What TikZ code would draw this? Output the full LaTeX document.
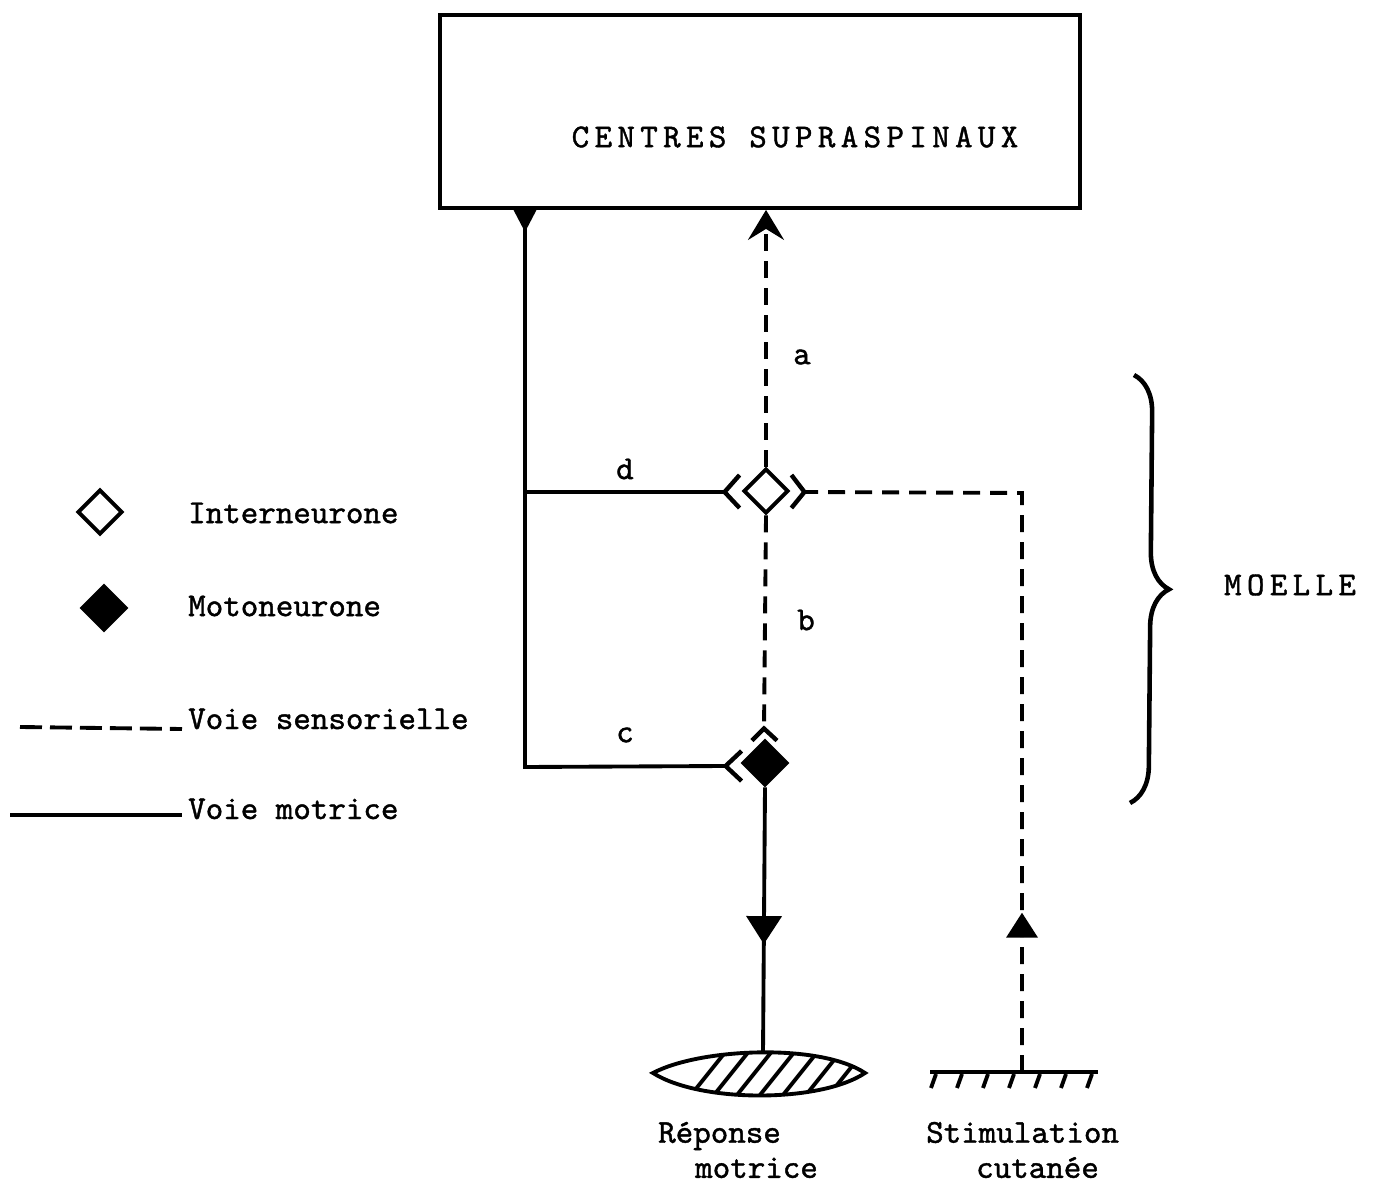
\documentclass[tikz,border=0pt]{standalone}
\usepackage{fontspec}
\usetikzlibrary{shapes.geometric,arrows.meta,decorations.markings,decorations.pathreplacing,calc}
\newfontfamily\typefont[FakeBold=1.2]{lmmono10-regular.otf}
\newfontfamily\capsfont[FakeBold=1.2,LetterSpace=16]{lmmono10-regular.otf}

\tikzset{
  motor/.style={line width=2.2pt},
  sensory/.style={line width=2.2pt,dash pattern=on 0.34cm off 0.2cm},
  synapse/.style={line width=2.5pt},
  cell/.style={diamond,draw,line width=2.2pt,minimum width=0.9cm,minimum height=0.9cm,inner sep=0pt},
  txt/.style={font=\typefont\fontsize{19}{20}\selectfont},
  capstxt/.style={font=\capsfont\fontsize{19}{20}\selectfont},
}

\begin{document}
\begin{tikzpicture}[x=0.02cm,y=-0.02cm]
\path[use as bounding box] (0,0) rectangle (1383,1185);
% centres supraspinaux
\node[draw,motor,minimum width=12.8cm,minimum height=3.86cm,inner sep=0pt] (box) at (760,111.5) {};
\node[capstxt] (title) at (795,137) {CENTRES SUPRASPINAUX};
% neurones
\node[cell] (inter) at (766,491) {};
\node[cell,fill=black] (moto) at (765,763) {};
\coordinate (mtop) at (525,208);
\coordinate (dj) at (525,492);
\coordinate (cj) at (525,767);
\coordinate (dtip) at ($(inter.west)+(-17,1)$);
\coordinate (etip) at ($(inter.east)+(14,1)$);
\coordinate (ctip) at ($(moto.west)+(-15,3)$);
\coordinate (btip) at ($(moto.north)+(-1,-10)$);
\coordinate (musc) at (763,1053);
\coordinate (skin) at (1022,1072);
\coordinate (scorner) at (1022,493);
% voie motrice
\fill ($(mtop)+(-12,1)$) -- ($(mtop)+(12,1)$) -- ($(mtop)+(0,24)$) -- cycle;
\draw[motor] (mtop) -- (cj) -- (ctip);
\draw[motor] (dj) -- (dtip);
\draw[motor,postaction={decorate},decoration={markings,mark=at position 0.59 with {\arrow{Triangle[length=0.56cm,width=0.7cm]}}}] (moto.south) -- (musc);
% synapses
\draw[synapse] ($(inter.west)+(-2,-16)$) -- (dtip) -- ($(inter.west)+(-2,17)$);
\draw[synapse] ($(inter.east)+(1,-16)$) -- (etip) -- ($(inter.east)+(1,17)$);
\draw[synapse] ($(moto.west)+(1,-12)$) -- (ctip) -- ($(moto.west)+(1,18)$);
\draw[synapse] ($(moto.north)+(-13,2)$) -- (btip) -- ($(moto.north)+(12,2)$);
% voie sensorielle
\draw[sensory,-{Stealth[length=0.6cm,width=0.72cm,inset=0.22cm]}] (inter.north) -- (inter.north |- box.south);
\draw[sensory] (inter.south) -- (btip);
\draw[sensory,postaction={decorate,solid},decoration={markings,mark=at position 0.2 with {\arrow{Triangle[length=0.5cm,width=0.62cm]}}}] (skin) -- (scorner) -- (etip);
% muscle
\draw[motor] (653,1073) .. controls (700,1048) and (820,1043) .. (865,1073) .. controls (820,1103) and (700,1103) .. cycle;
\begin{scope}
\clip (653,1073) .. controls (700,1048) and (820,1043) .. (865,1073) .. controls (820,1103) and (700,1103) .. cycle;
\foreach \x in {683,706,...,821}
  \draw[motor] (\x,1105) -- ++(44,-55);
\end{scope}
% peau
\draw[motor] (930,1072) -- (1098,1072);
\foreach \x in {931,957,...,1089}
  \draw[motor] (\x,1088) -- ++(5,-14);
% moelle
\draw[line width=2.6pt,decorate,decoration={brace,amplitude=0.74cm}] (1134,375) -- (1130,803);
\node[capstxt] (moelle) at (1290,585) {MOELLE};
% lettres
\node[txt] (la) at (802,357) {a};
\node[txt] (lb) at (806,620) {b};
\node[txt] (lc) at (625,735) {c};
\node[txt] (ld) at (625,469) {d};
% legende
\node[cell] (keyinter) at (100,512) {};
\node[cell,fill=black] (keymoto) at (104,608) {};
\node[txt,anchor=west] (tinter) at (182,513) {Interneurone};
\node[txt,anchor=west] (tmoto) at (182,606) {Motoneurone};
\node[txt,anchor=base west] (tsens) at (182,729) {Voie sensorielle};
\node[txt,anchor=base west] (tmot) at (182,819) {Voie motrice};
\coordinate (keysens) at (20,727);
\coordinate (keymot) at (10,815);
\draw[sensory,dash pattern=on 0.44cm off 0.16cm] (keysens) -- (tsens.base west);
\draw[motor] (keymot) -- ($(tmot.base west)+(0,-4)$);
% effecteurs
\node[txt,align=left,anchor=west] (resp) at (652,1150) {Réponse\\\hspace*{0.74cm}motrice};
\node[txt,align=left,anchor=west] (stim) at (920,1150) {Stimulation\\\hspace*{1.0cm}cutanée};
\end{tikzpicture}
\end{document}
